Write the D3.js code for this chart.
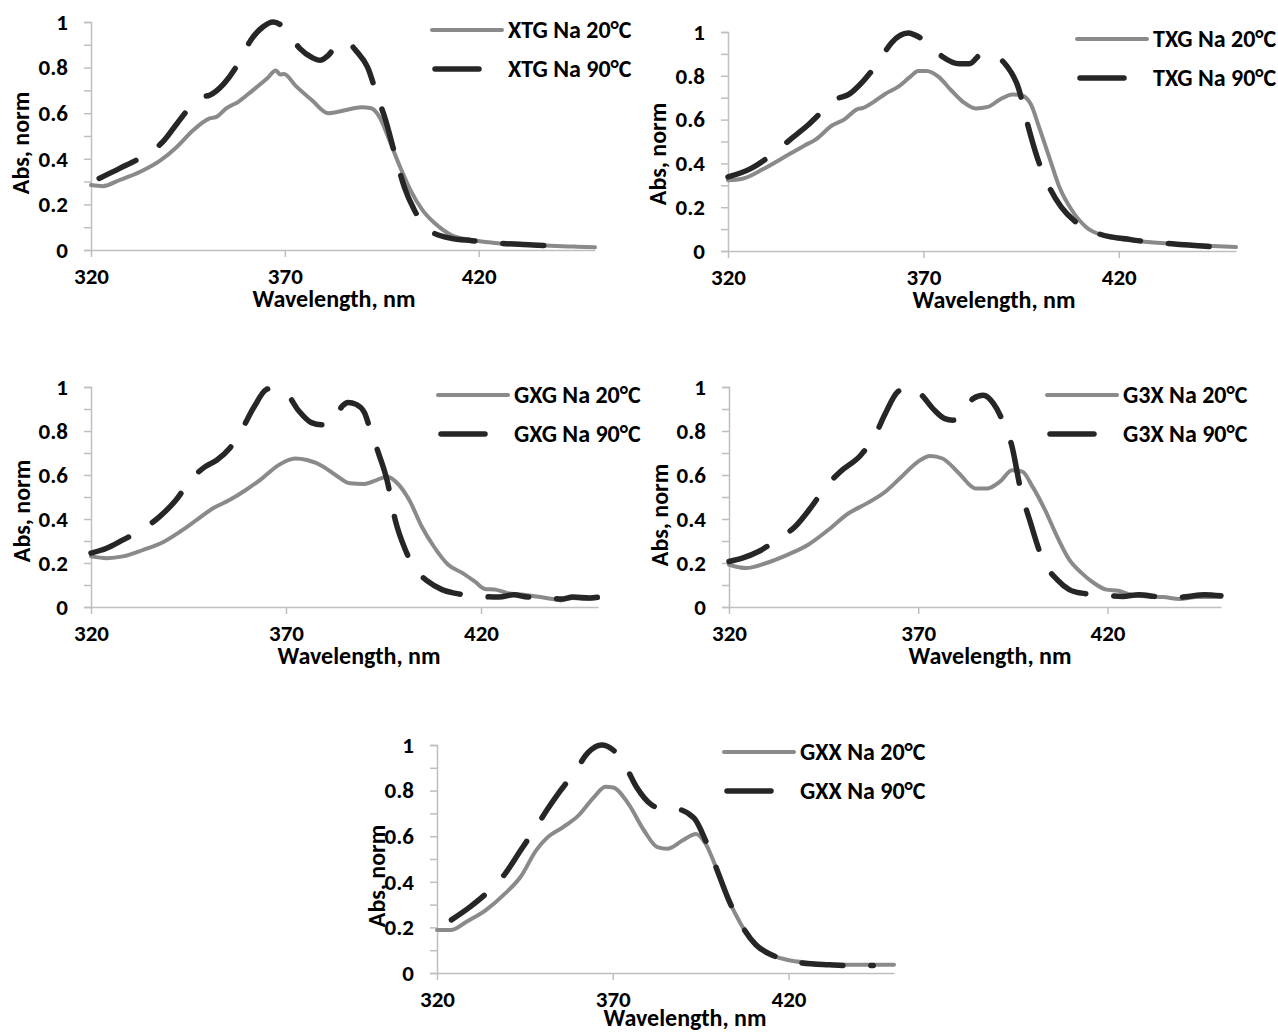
<!DOCTYPE html>
<html>
<head>
<meta charset="utf-8">
<script src="https://cdn.jsdelivr.net/npm/d3@7"></script>
<style>
  body { margin: 0; background: #fff; }
  svg text { font-family: Carlito, Calibri, Lato, sans-serif; font-weight: bold; fill: #000; }
</style>
</head>
<body>
<div id="roott"></div>
<script>
// tick labels
let xTicks = [320, 370, 420];
let yTicks = [0, 0.2, 0.4, 0.6, 0.8, 1];
let yMinor = [0.1, 0.3, 0.5, 0.7, 0.9];

// [wavelength nm, abs norm]
let xtg20 = [[320,0.285],[323,0.28],[327.4,0.307],[332.7,0.343],[338,0.394],[342.2,0.453],[346.4,0.526],[350.6,0.577],[352.5,0.585],[354.8,0.62],[358,0.65],[361.7,0.70],[365.4,0.752],[367.7,0.787],[368.8,0.77],[369.8,0.772],[372.8,0.72],[377,0.657],[381.2,0.6],[385.5,0.613],[389.7,0.626],[392.3,0.622],[394.4,0.584],[397,0.48],[399.7,0.365],[402.4,0.263],[405.5,0.175],[408.7,0.117],[412.9,0.066],[418.2,0.044],[423.5,0.032],[434,0.022],[444.6,0.015],[450,0.012]];
let xtg90 = [[322.1,0.314],[327.4,0.358],[333.2,0.409],[338.5,0.474],[342.2,0.555],[346.4,0.642],[348.5,0.67],[350.6,0.679],[354.3,0.73],[358,0.818],[361.2,0.92],[364.3,0.978],[367,1.0],[369.1,0.985],[370.7,0.956],[373.9,0.883],[377,0.844],[379.1,0.832],[381.2,0.854],[383.9,0.905],[386,0.91],[388.6,0.869],[391.3,0.803],[393.9,0.672],[396,0.569],[398.1,0.438],[400.8,0.277],[403.4,0.175],[407.1,0.088],[412.9,0.051],[418.2,0.041],[425.6,0.029],[434,0.022],[443.5,0.015]];

let txg20 = [[320,0.323],[323.7,0.33],[328.9,0.373],[334.1,0.426],[339.4,0.48],[342.5,0.51],[346.7,0.574],[349.8,0.601],[353,0.647],[354.6,0.654],[357.2,0.68],[360.3,0.718],[363.5,0.749],[366.6,0.795],[368.7,0.822],[370.8,0.822],[373.9,0.795],[377.1,0.734],[380.2,0.68],[383.4,0.651],[386.5,0.658],[389.6,0.692],[392.8,0.715],[394.9,0.712],[397.5,0.67],[399.6,0.566],[402.2,0.429],[404.8,0.292],[408,0.186],[411.6,0.11],[415.8,0.072],[423.1,0.049],[433.6,0.033],[444,0.023],[450,0.018]];
let txg90 = [[320,0.338],[325.8,0.376],[331,0.437],[336.2,0.513],[340.4,0.574],[345.1,0.654],[347.7,0.693],[350.9,0.715],[354.6,0.776],[358.7,0.868],[361.9,0.952],[366.1,0.995],[367.6,0.988],[371.3,0.947],[375,0.886],[379.2,0.855],[381.8,0.855],[385,0.9],[388.1,0.892],[391.2,0.848],[394.4,0.74],[396.4,0.597],[399.1,0.429],[402.2,0.292],[405.3,0.2],[409,0.132],[414.8,0.079],[423.1,0.052],[433.6,0.033],[445.1,0.018]];

let gxg20 = [[320,0.23],[324,0.222],[328.2,0.23],[333.4,0.26],[338.7,0.297],[342.9,0.343],[347.1,0.396],[351.3,0.449],[355.5,0.486],[359.7,0.532],[363.9,0.585],[368.1,0.645],[372.3,0.675],[375.4,0.668],[379.6,0.638],[382.7,0.6],[386.4,0.562],[390.1,0.559],[393.2,0.577],[395.9,0.592],[399,0.554],[401.6,0.486],[404.8,0.366],[407.9,0.275],[411.6,0.192],[415.3,0.154],[418.4,0.116],[421,0.082],[423.7,0.079],[426.8,0.063],[431,0.056],[435.2,0.045],[438.4,0.036],[440.5,0.03],[443.6,0.041],[446.8,0.036],[450,0.041]];
let gxg90 = [[320,0.245],[324,0.267],[328.2,0.305],[332.9,0.35],[337.6,0.411],[341.8,0.486],[345.5,0.577],[349.2,0.637],[352.3,0.668],[355.5,0.72],[358.6,0.804],[361.8,0.909],[364.9,0.988],[366,0.993],[370.2,0.967],[373.3,0.891],[376.5,0.838],[379.1,0.828],[381.8,0.835],[384.5,0.915],[385.9,0.93],[388,0.921],[390.1,0.884],[391.7,0.801],[393.8,0.695],[395.9,0.577],[398,0.396],[400.6,0.26],[402.7,0.184],[406.4,0.116],[410,0.079],[413.2,0.063],[418.4,0.051],[424.7,0.045],[428.4,0.056],[432,0.045],[436.2,0.045],[440.5,0.036],[443.6,0.045],[447.8,0.041],[450,0.045]];

let g3x20 = [[320,0.192],[324.5,0.177],[329.9,0.2],[335.4,0.237],[340.8,0.282],[346.2,0.35],[351.6,0.426],[356.4,0.471],[361.3,0.524],[365.6,0.592],[369.9,0.66],[373.2,0.686],[376.4,0.675],[380.8,0.607],[385.1,0.539],[388.3,0.539],[391.6,0.57],[394.8,0.622],[397.5,0.615],[400.2,0.547],[403.5,0.441],[406.7,0.32],[409.9,0.215],[413.2,0.154],[416.4,0.109],[419.7,0.079],[422.9,0.074],[426.2,0.056],[430.5,0.048],[434.8,0.045],[439.1,0.036],[443.5,0.045],[450,0.045]];
let g3x90 = [[320,0.207],[323.5,0.222],[327.8,0.252],[332.6,0.305],[337.5,0.366],[341.8,0.456],[345.6,0.547],[349.4,0.615],[354.8,0.69],[358.6,0.781],[361.3,0.879],[364.5,0.977],[367.8,1.0],[370.5,0.97],[374.3,0.894],[377,0.856],[379.1,0.849],[381.8,0.879],[384.5,0.947],[387.2,0.962],[389.9,0.924],[392.6,0.834],[394.8,0.728],[396.9,0.547],[399.7,0.381],[402.9,0.215],[406.7,0.124],[409.9,0.079],[413.2,0.063],[418.1,0.056],[424,0.048],[428.3,0.056],[432.6,0.048],[437,0.041],[441.3,0.048],[445.6,0.056],[450,0.051]];

let gxx20 = [[320,0.189],[324.1,0.189],[328.4,0.225],[333.9,0.276],[339.4,0.349],[343.8,0.422],[348.2,0.538],[351.5,0.596],[355.9,0.64],[360.2,0.69],[364.6,0.77],[367.9,0.817],[370.1,0.814],[374.5,0.741],[378.9,0.625],[382.7,0.552],[385.5,0.545],[389.8,0.581],[393.7,0.61],[396.4,0.567],[399.7,0.451],[403,0.32],[406.3,0.218],[410.1,0.131],[414,0.087],[419.5,0.058],[426,0.044],[434.8,0.036],[450,0.036]];
let gxx90 = [[324.1,0.233],[329.5,0.291],[335,0.363],[339.4,0.436],[343.8,0.538],[348.2,0.64],[351.5,0.72],[354.8,0.793],[359.1,0.88],[363,0.967],[366.8,1.0],[370.1,0.978],[373.4,0.913],[376.7,0.817],[381.1,0.737],[384.4,0.72],[387.6,0.72],[393.1,0.68],[396.4,0.581],[399.7,0.451],[403,0.32],[406.3,0.218],[410.7,0.124],[415.1,0.08],[419.5,0.058],[423.9,0.044],[431.6,0.036],[438.2,0.032],[444.1,0.033]];

let names = ["XTG", "TXG", "GXG", "G3X", "GXX"];

// panel placement on the page (pixels)
let panels = [
  {name: names[0], warm: xtg90, cold: xtg20, l: 91,  r: 595,  t: 22,  b: 250, lgX: 432,  lgY: 30,  yl: [21, 143],  xl: [334, 299]},
  {name: names[1], warm: txg90, cold: txg20, l: 728, r: 1236, t: 32,  b: 251, lgX: 1077, lgY: 39,  yl: [658, 154], xl: [994, 300]},
  {name: names[2], warm: gxg90, cold: gxg20, l: 91,  r: 598,  t: 387, b: 607, lgX: 438,  lgY: 395, yl: [22, 511],  xl: [359, 656]},
  {name: names[3], warm: g3x90, cold: g3x20, l: 729, r: 1221, t: 387, b: 607, lgX: 1047, lgY: 395, yl: [660, 515], xl: [990, 656]},
  {name: names[4], warm: gxx90, cold: gxx20, l: 437, r: 894,  t: 745, b: 973, lgX: 724,  lgY: 752, yl: [377, 876], xl: [685, 1018]}
];

let grayy = "#8a8a8a", darkk = "#262626", axisCol = "#bfbfbf";

let svg = d3.select('#roott')
  .append('svg')
  .attr('width', 1278)
  .attr('height', 1034);

panels.forEach(p => {
  let xScale = d3.scaleLinear().domain([320, 450]).range([p.l, p.r]);
  let yScale = d3.scaleLinear().domain([0, 1]).range([p.b, p.t]);
  let g = svg.append('g');

  // y axis, minor ticks unlabeled
  let yAx = g.append('g')
    .attr('transform', `translate(${p.l},0)`)
    .call(d3.axisLeft(yScale).tickValues(yTicks.concat(yMinor)).tickSize(7).tickPadding(16)
      .tickFormat(d => yTicks.includes(d) ? d3.format('~g')(d) : ''));
  yAx.select('.domain').attr('stroke', axisCol).attr('stroke-width', 1.5);
  yAx.selectAll('.tick line').attr('stroke', axisCol).attr('stroke-width', 1.5);
  yAx.selectAll('.tick text').style('font-size', '23px');

  let xAx = g.append('g')
    .attr('transform', `translate(0,${p.b})`)
    .call(d3.axisBottom(xScale).tickValues(xTicks).tickSize(7).tickPadding(11).tickSizeOuter(0));
  xAx.select('.domain').attr('stroke', axisCol).attr('stroke-width', 1.5);
  xAx.selectAll('.tick line').attr('stroke', axisCol).attr('stroke-width', 1.5);
  xAx.selectAll('.tick text').style('font-size', '23px');

  let line = d3.line()
    .x(d => xScale(d[0]))
    .y(d => yScale(d[1]))
    .curve(d3.curveMonotoneX);

  g.append('path').datum(p.cold)
    .attr('d', line)
    .attr('fill', 'none')
    .attr('stroke', grayy)
    .attr('stroke-width', 4)
    .attr('stroke-linejoin', 'round')
    .attr('stroke-linecap', 'round');

  g.append('path').datum(p.warm)
    .attr('d', line)
    .attr('fill', 'none')
    .attr('stroke', darkk)
    .attr('stroke-width', 5.5)
    .attr('stroke-dasharray', '41,28')
    .attr('stroke-linejoin', 'round')
    .attr('stroke-linecap', 'round');

  // legend
  g.append('line')
    .attr('x1', p.lgX).attr('x2', p.lgX + 70)
    .attr('y1', p.lgY).attr('y2', p.lgY)
    .attr('stroke', grayy).attr('stroke-width', 4).attr('stroke-linecap', 'round');
  g.append('line')
    .attr('x1', p.lgX + 3).attr('x2', p.lgX + 47)
    .attr('y1', p.lgY + 39).attr('y2', p.lgY + 39)
    .attr('stroke', darkk).attr('stroke-width', 5.5).attr('stroke-linecap', 'round');
  g.append('text')
    .attr('x', p.lgX + 76).attr('y', p.lgY)
    .attr('dy', '0.33em')
    .style('font-size', '24px')
    .text(p.name + ' Na 20°C');
  g.append('text')
    .attr('x', p.lgX + 76).attr('y', p.lgY + 39)
    .attr('dy', '0.33em')
    .style('font-size', '24px')
    .text(p.name + ' Na 90°C');

  // axis titles
  g.append('text')
    .attr('transform', `translate(${p.yl[0]},${p.yl[1]}) rotate(-90)`)
    .attr('text-anchor', 'middle')
    .attr('dy', '0.33em')
    .style('font-size', '24px')
    .text('Abs, norm');
  g.append('text')
    .attr('x', p.xl[0]).attr('y', p.xl[1])
    .attr('text-anchor', 'middle')
    .attr('dy', '0.33em')
    .style('font-size', '24px')
    .text('Wavelength, nm');
});
</script>
</body>
</html>
